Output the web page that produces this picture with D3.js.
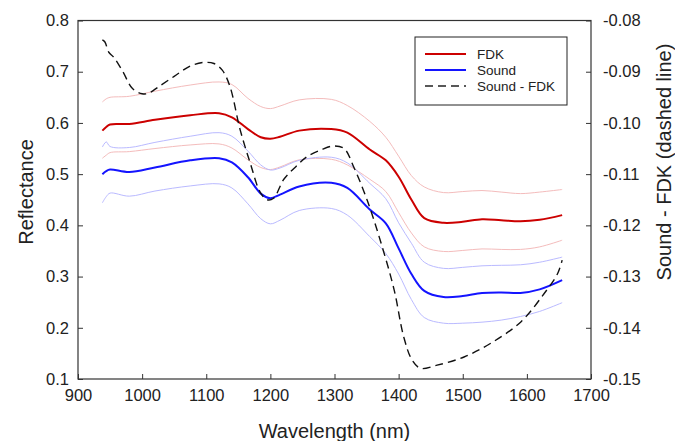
<!DOCTYPE html>
<html lang="en">
<head>
<meta charset="utf-8">
<title>Reflectance spectra</title>
<script src="https://cdn.jsdelivr.net/npm/d3@7"></script>
<style>
  body { margin: 0; background: #fff; }
  svg { font-family: "Liberation Sans", Arial, sans-serif; }
  .axis path, .axis line { stroke: #333; }
  .axis text { font-size: 16.5px; fill: #222; }
</style>
</head>
<body>
<div id="chart"></div>
<script>
// wavelengths (nm) shared by the reflectance curves
var wavelength = [938, 944, 950, 980, 1020, 1075, 1120, 1140, 1165, 1185, 1200, 1215, 1245,
  1295, 1320, 1355, 1380, 1400, 1420, 1440, 1470, 1500, 1530, 1560, 1590, 1620, 1655];

var fdk = [0.585, 0.592, 0.597, 0.598, 0.606, 0.615, 0.619, 0.611, 0.588, 0.572, 0.569, 0.573, 0.585,
  0.588, 0.581, 0.548, 0.527, 0.495, 0.450, 0.414, 0.405, 0.407, 0.412, 0.410, 0.408, 0.411, 0.420];
var fdkUpper = [0.641, 0.647, 0.650, 0.652, 0.662, 0.674, 0.680, 0.675, 0.648, 0.632, 0.628, 0.633, 0.645,
  0.646, 0.634, 0.603, 0.572, 0.535, 0.497, 0.475, 0.464, 0.466, 0.468, 0.465, 0.462, 0.465, 0.470];
var fdkLower = [0.531, 0.537, 0.542, 0.544, 0.550, 0.557, 0.559, 0.551, 0.528, 0.513, 0.509, 0.514, 0.528,
  0.529, 0.518, 0.490, 0.466, 0.425, 0.385, 0.358, 0.349, 0.351, 0.354, 0.353, 0.353, 0.358, 0.371];

var sound = [0.500, 0.506, 0.509, 0.504, 0.513, 0.527, 0.531, 0.523, 0.494, 0.462, 0.453, 0.460, 0.476,
  0.483, 0.473, 0.431, 0.404, 0.355, 0.305, 0.272, 0.260, 0.262, 0.268, 0.269, 0.268, 0.275, 0.293];
var soundUpper = [0.553, 0.563, 0.554, 0.552, 0.562, 0.574, 0.581, 0.574, 0.545, 0.518, 0.508, 0.512, 0.527,
  0.533, 0.522, 0.482, 0.452, 0.405, 0.365, 0.328, 0.316, 0.318, 0.321, 0.322, 0.323, 0.328, 0.338];
var soundLower = [0.444, 0.456, 0.463, 0.457, 0.467, 0.477, 0.481, 0.473, 0.442, 0.413, 0.403, 0.410, 0.429,
  0.433, 0.420, 0.378, 0.345, 0.305, 0.255, 0.220, 0.209, 0.209, 0.211, 0.215, 0.222, 0.232, 0.249];

// difference curve (right axis)
var diffWavelength = [938, 942, 948, 956, 970, 985, 1000, 1010, 1025, 1050, 1075, 1095, 1112, 1125, 1137,
  1153, 1169, 1184, 1195, 1205, 1221, 1240, 1257, 1280, 1299, 1315, 1330, 1351, 1372, 1393, 1408,
  1421, 1434, 1460, 1502, 1544, 1591, 1627, 1648, 1655];
var diff = [-0.0838, -0.0842, -0.0862, -0.0872, -0.0900, -0.0933, -0.0943, -0.0942, -0.0930, -0.0909,
  -0.0889, -0.0882, -0.0884, -0.0897, -0.0929, -0.1014, -0.1080, -0.1135, -0.1150, -0.1147, -0.1110,
  -0.1085, -0.1066, -0.1052, -0.1045, -0.1050, -0.1086, -0.1151, -0.1232, -0.1326, -0.1418, -0.1463,
  -0.1479, -0.1473, -0.1457, -0.1430, -0.1388, -0.1333, -0.1294, -0.1268];

var xTicks = [900, 1000, 1100, 1200, 1300, 1400, 1500, 1600, 1700];
var yTicks = [0.1, 0.2, 0.3, 0.4, 0.5, 0.6, 0.7, 0.8];
var y2Ticks = [-0.15, -0.14, -0.13, -0.12, -0.11, -0.10, -0.09, -0.08];
var legendItems = ["FDK", "Sound", "Sound - FDK"];

var width = 675, height = 441;
var margin = {top: 20.5, right: 84, bottom: 62, left: 78};

var svg = d3.select("#chart").append("svg")
  .attr("width", width)
  .attr("height", height);

var x = d3.scaleLinear().domain([900, 1700]).range([margin.left, width - margin.right]);
var y = d3.scaleLinear().domain([0.1, 0.8]).range([height - margin.bottom, margin.top]);
var y2 = d3.scaleLinear().domain([-0.15, -0.08]).range([height - margin.bottom, margin.top]);

// frame
svg.append("rect")
  .attr("x", x(900)).attr("y", y(0.8))
  .attr("width", x(1700) - x(900)).attr("height", y(0.1) - y(0.8))
  .attr("fill", "none").attr("stroke", "#333").attr("stroke-width", 1.2);

svg.append("g").attr("class", "axis")
  .attr("transform", "translate(0," + y(0.1) + ")")
  .call(d3.axisBottom(x).tickValues(xTicks).tickFormat(d3.format("d")).tickSizeInner(-5).tickSizeOuter(0).tickPadding(10))
  .call(function(g) { g.select(".domain").remove(); });

svg.append("g").attr("class", "axis")
  .attr("transform", "translate(" + x(900) + ",0)")
  .call(d3.axisLeft(y).tickValues(yTicks).tickFormat(d3.format(".1f")).tickSizeInner(-5).tickSizeOuter(0).tickPadding(9))
  .call(function(g) { g.select(".domain").remove(); });

var f2 = d3.format(".2f");
svg.append("g").attr("class", "axis")
  .attr("transform", "translate(" + x(1700) + ",0)")
  .call(d3.axisRight(y2).tickValues(y2Ticks)
    .tickFormat(function(d) { return f2(d).replace("\u2212", "-"); })
    .tickSizeInner(-5).tickSizeOuter(0).tickPadding(12))
  .call(function(g) { g.select(".domain").remove(); });

// axis titles
svg.append("text")
  .attr("x", (x(900) + x(1700)) / 2).attr("y", 438)
  .attr("text-anchor", "middle").attr("font-size", 20).attr("fill", "#222")
  .text("Wavelength (nm)");

svg.append("text")
  .attr("transform", "translate(33,192) rotate(-90)")
  .attr("text-anchor", "middle").attr("font-size", 20).attr("fill", "#222")
  .text("Reflectance");

svg.append("text")
  .attr("transform", "translate(671,162) rotate(-90)")
  .attr("text-anchor", "middle").attr("font-size", 20).attr("fill", "#222")
  .text("Sound - FDK (dashed line)");

var line = d3.line()
  .x(function(d) { return x(d[0]); })
  .y(function(d) { return y(d[1]); })
  .curve(d3.curveCatmullRom.alpha(0.5));

var line2 = d3.line()
  .x(function(d) { return x(d[0]); })
  .y(function(d) { return y2(d[1]); })
  .curve(d3.curveCatmullRom.alpha(0.5));

function pairs(vals) { return wavelength.map(function(w, i) { return [w, vals[i]]; }); }

var series = [
  {vals: fdkUpper, color: "#f4bcbc", w: 1},
  {vals: fdkLower, color: "#f4bcbc", w: 1},
  {vals: soundUpper, color: "#babaff", w: 1},
  {vals: soundLower, color: "#babaff", w: 1},
  {vals: fdk, color: "#cc0000", w: 2},
  {vals: sound, color: "#1414ff", w: 2}
];

svg.selectAll("path.spec")
  .data(series)
  .enter().append("path")
  .attr("class", "spec")
  .attr("d", function(d) { return line(pairs(d.vals)); })
  .attr("fill", "none")
  .attr("stroke", function(d) { return d.color; })
  .attr("stroke-width", function(d) { return d.w; });

svg.append("path")
  .attr("d", line2(diffWavelength.map(function(w, i) { return [w, diff[i]]; })))
  .attr("fill", "none")
  .attr("stroke", "#111")
  .attr("stroke-width", 1.4)
  .attr("stroke-dasharray", "8,5");

// legend
var lg = svg.append("g").attr("transform", "translate(415,37)");
lg.append("rect").attr("width", 152).attr("height", 68)
  .attr("fill", "#fff").attr("stroke", "#222").attr("stroke-width", 1);

var legendStyle = [
  {color: "#cc0000", dash: null},
  {color: "#1414ff", dash: null},
  {color: "#222", dash: "8,5"}
];

lg.selectAll("line.key")
  .data(legendItems)
  .enter().append("line")
  .attr("class", "key")
  .attr("x1", 10).attr("x2", 51)
  .attr("y1", function(d, i) { return 17 + i * 16; })
  .attr("y2", function(d, i) { return 17 + i * 16; })
  .attr("stroke", function(d, i) { return legendStyle[i].color; })
  .attr("stroke-width", function(d, i) { return i < 2 ? 2 : 1.3; })
  .attr("stroke-dasharray", function(d, i) { return legendStyle[i].dash; });

lg.selectAll("text.key")
  .data(legendItems)
  .enter().append("text")
  .attr("class", "key")
  .attr("x", 62)
  .attr("y", function(d, i) { return 17 + i * 16; })
  .attr("dy", "0.35em")
  .attr("font-size", 13.5).attr("fill", "#222")
  .text(function(d) { return d; });
</script>
</body>
</html>
